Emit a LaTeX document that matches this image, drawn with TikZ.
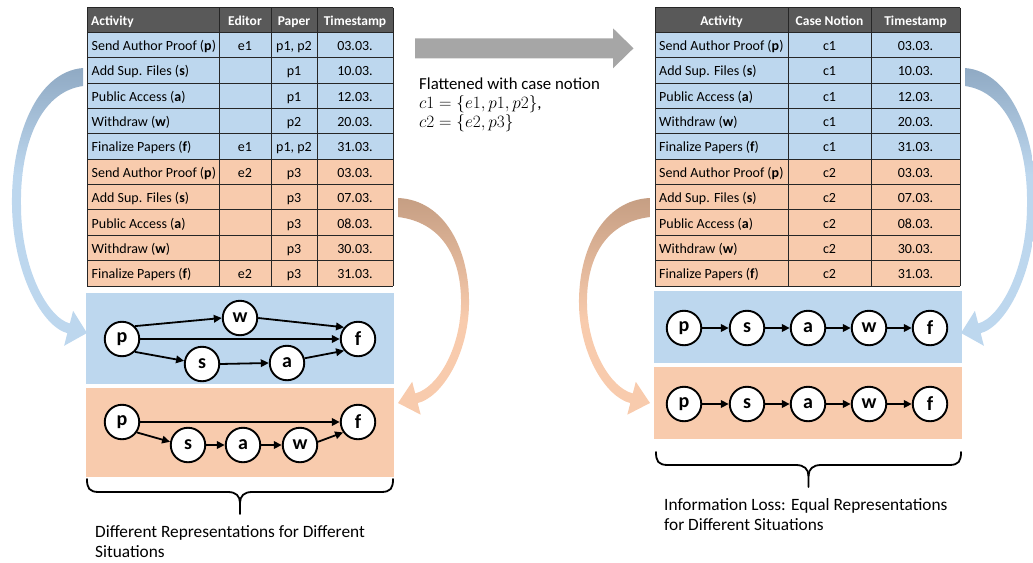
\documentclass[tikz,border=0pt]{standalone}
\usepackage{fontspec}
\setmainfont{Carlito}
\usetikzlibrary{arrows.meta}

\definecolor{headgray}{HTML}{595959}
\definecolor{caseblue}{HTML}{BDD7EE}
\definecolor{caseorange}{HTML}{F8CBAD}
\definecolor{blueback}{HTML}{8EA8C2}
\definecolor{orangeback}{HTML}{C49D82}
\definecolor{flatgray}{HTML}{A6A6A6}

% curved block arrows (coordinates: 1 unit = 1pt, y grows downwards)
\newcommand\blueswoosh{(83,68) .. controls (35,72) and (11,140) .. (12,205)
  .. controls (13,275) and (43,327) .. (67.35,333.15)
  -- (64.1,345.8) -- (87,333) -- (73.1,310.8) -- (69.85,323.45)
  .. controls (48.5,318) and (21,270) .. (21,205)
  .. controls (20,145) and (40,92) .. (83,86) -- cycle}
\newcommand\orangeswoosh{(398,198) .. controls (445,200) and (470,250) .. (469,305)
  .. controls (468,355) and (442,397) .. (417.7,403.1)
  -- (420.7,414.7) -- (398,403) -- (412.2,381.8) -- (415.2,393.4)
  .. controls (437,388) and (460,350) .. (461,305)
  .. controls (462,255) and (440,222) .. (398,217) -- cycle}

\begin{document}
\begin{tikzpicture}[x=1pt,y=-1pt,
  cell/.style={font=\fontsize{14}{16}\selectfont, inner sep=0pt},
  head/.style={font=\fontsize{13.5}{15}\selectfont\bfseries, text=white, inner sep=0pt},
  state/.style={circle, draw=black, line width=1.9pt, fill=white, minimum size=34.5pt,
    inner sep=0pt, font=\fontsize{20}{20}\selectfont\bfseries},
  flow/.style={line width=1.8pt, -{Triangle[length=8pt,width=7.5pt]}},
  tablerule/.style={line width=0.9pt, draw=black!85},
  bracket/.style={line width=1.8pt, line cap=round, line join=round},
  caption/.style={font=\fontsize{17.3}{20}\selectfont, align=left, inner sep=0pt}
]
\useasboundingbox (0,0) rectangle (1033,562);

% ---------------- curved arrows ----------------
\begin{scope}
  \clip \blueswoosh;
  \shade[top color=blueback, bottom color=caseblue] (0,64) rectangle (100,175);
  \fill[caseblue] (0,175) rectangle (100,360);
\end{scope}
\begin{scope}
  \clip \orangeswoosh;
  \shade[top color=orangeback, bottom color=caseorange] (390,194) rectangle (480,320);
  \fill[caseorange] (390,320) rectangle (480,430);
\end{scope}
\begin{scope}[xshift=1048pt, xscale=-1]
  \begin{scope}
    \clip \blueswoosh;
    \shade[top color=blueback, bottom color=caseblue] (0,64) rectangle (100,175);
    \fill[caseblue] (0,175) rectangle (100,360);
  \end{scope}
  \begin{scope}
    \clip \orangeswoosh;
    \shade[top color=orangeback, bottom color=caseorange] (390,194) rectangle (480,320);
    \fill[caseorange] (390,320) rectangle (480,430);
  \end{scope}
\end{scope}

% ---------------- left event table ----------------
\fill[headgray] (87,7.5) rectangle (393,32.3);
\fill[caseblue] (87,32.3) rectangle (393,159.15);
\fill[caseorange] (87,159.15) rectangle (393,286);
\foreach \k in {0,...,10} \draw[tablerule] (87,32.3+\k*25.37) -- (393,32.3+\k*25.37);
\draw[tablerule] (87,7.5) -- (393,7.5);
\foreach \x in {87,219,271,317,393} \draw[tablerule] (\x,7.5) -- (\x,286);

\node[head, anchor=base west] (Lh1) at (91,25.2) {Activity};
\node[head, anchor=base] (Lh2) at (245,25.2) {Editor};
\node[head, anchor=base] (Lh3) at (294,25.2) {Paper};
\node[head, anchor=base] (Lh4) at (355,25.2) {Timestamp};

\foreach \i/\act/\pap/\ts in {
  1/Send Author Proof (\textbf{p})/{p1, p2}/03.03.,
  2/Add Sup. Files (\textbf{s})/p1/10.03.,
  3/Public Access (\textbf{a})/p1/12.03.,
  4/Withdraw (\textbf{w})/p2/20.03.,
  5/Finalize Papers (\textbf{f})/{p1, p2}/31.03.,
  6/Send Author Proof (\textbf{p})/p3/03.03.,
  7/Add Sup. Files (\textbf{s})/p3/07.03.,
  8/Public Access (\textbf{a})/p3/08.03.,
  9/Withdraw (\textbf{w})/p3/30.03.,
  10/Finalize Papers (\textbf{f})/p3/31.03.}{
  \pgfmathsetmacro\yb{32.3+(\i-0.5)*25.37+5.5}
  \node[cell, anchor=base west] (La\i) at (91.5,\yb) {\act};
  \node[cell, anchor=base] (Lp\i) at (294,\yb) {\pap};
  \node[cell, anchor=base] (Lt\i) at (355,\yb) {\ts};
}
\foreach \i/\ed in {1/e1,5/e1,6/e2,10/e2}{
  \pgfmathsetmacro\yb{32.3+(\i-0.5)*25.37+5.5}
  \node[cell, anchor=base] (Le\i) at (245,\yb) {\ed};
}

% ---------------- flattening arrow ----------------
\fill[flatgray] (415,38.3) -- (613,38.3) -- (613,28.3) -- (633.5,48.3) -- (613,68.3)
  -- (613,58.3) -- (415,58.3) -- cycle;
\node[caption, font=\fontsize{16.8}{19}\selectfont, anchor=base west] (flat) at (419,127.5)
  {Flattened with case notion\\$c1=\{e1,p1,p2\}$,\\$c2=\{e2,p3\}$};

% ---------------- right (flattened) event table ----------------
\fill[headgray] (655,7.5) rectangle (960,32.3);
\fill[caseblue] (655,32.3) rectangle (960,159.15);
\fill[caseorange] (655,159.15) rectangle (960,286);
\foreach \k in {0,...,10} \draw[tablerule] (655,32.3+\k*25.37) -- (960,32.3+\k*25.37);
\draw[tablerule] (655,7.5) -- (960,7.5);
\foreach \x in {655,788,871,960} \draw[tablerule] (\x,7.5) -- (\x,286);

\node[head, anchor=base] (Rh1) at (721.5,25.2) {Activity};
\node[head, anchor=base] (Rh2) at (829.5,25.2) {Case Notion};
\node[head, anchor=base] (Rh3) at (915.5,25.2) {Timestamp};

\foreach \i/\act/\cn/\ts in {
  1/Send Author Proof (\textbf{p})/c1/03.03.,
  2/Add Sup. Files (\textbf{s})/c1/10.03.,
  3/Public Access (\textbf{a})/c1/12.03.,
  4/Withdraw (\textbf{w})/c1/20.03.,
  5/Finalize Papers (\textbf{f})/c1/31.03.,
  6/Send Author Proof (\textbf{p})/c2/03.03.,
  7/Add Sup. Files (\textbf{s})/c2/07.03.,
  8/Public Access (\textbf{a})/c2/08.03.,
  9/Withdraw (\textbf{w})/c2/30.03.,
  10/Finalize Papers (\textbf{f})/c2/31.03.}{
  \pgfmathsetmacro\yb{32.3+(\i-0.5)*25.37+5.5}
  \node[cell, anchor=base west] (Ra\i) at (659,\yb) {\act};
  \node[cell, anchor=base] (Rc\i) at (829.5,\yb) {\cn};
  \node[cell, anchor=base] (Rt\i) at (915.5,\yb) {\ts};
}

% ---------------- left process models ----------------
\fill[caseblue] (86,293) rectangle (394,384);
\fill[caseorange] (86,388) rectangle (394,477);

\node[state] (b1p) at (122,339) {p};
\node[state] (b1w) at (240,318) {w};
\node[state] (b1f) at (358,339) {f};
\node[state] (b1s) at (202,364) {s};
\node[state] (b1a) at (287,363) {a};
\draw[flow] (b1p.45) -- (b1w.west);
\draw[flow] (b1w.east) -- (b1f.140);
\draw[flow] (b1p.east) -- (b1f.west);
\draw[flow] (b1p.-45) -- (b1s.170);
\draw[flow] (b1s.east) -- (b1a.west);
\draw[flow] (b1a.15) -- (b1f.220);

\node[state] (o1p) at (122,422) {p};
\node[state] (o1f) at (358,422) {f};
\node[state] (o1s) at (188,445) {s};
\node[state] (o1a) at (243,445) {a};
\node[state] (o1w) at (300,445) {w};
\draw[flow] (o1p.east) -- (o1f.west);
\draw[flow] (o1p.-35) -- (o1s.170);
\draw[flow] (o1s.east) -- (o1a.west);
\draw[flow] (o1a.east) -- (o1w.west);
\draw[flow] (o1w.10) -- (o1f.215);

% ---------------- right process models ----------------
\fill[caseblue] (654,291) rectangle (962,363);
\fill[caseorange] (654,367) rectangle (962,439);
\foreach \r/\y in {b2/328,o2/404}{
  \node[state] (\r p) at (684,\y) {p};
  \node[state] (\r s) at (747,\y) {s};
  \node[state] (\r a) at (808,\y) {a};
  \node[state] (\r w) at (869,\y) {w};
  \node[state] (\r f) at (930,\y) {f};
  \draw[flow] (\r p) -- (\r s);
  \draw[flow] (\r s) -- (\r a);
  \draw[flow] (\r a) -- (\r w);
  \draw[flow] (\r w) -- (\r f);
}

% ---------------- braces and captions ----------------
\draw[bracket] (87,479) .. controls (87,488) and (89,492) .. (99,492) -- (228,492)
  .. controls (236,492) and (240,496) .. (240,503) -- (240,514);
\draw[bracket] (393,479) .. controls (393,488) and (391,492) .. (381,492) -- (252,492)
  .. controls (244,492) and (240,496) .. (240,503);
\node[caption, anchor=base west] (capL) at (95,557.3)
  {Different Representations for Different\\Situations};

\draw[bracket] (656,452) .. controls (656,461) and (658,465) .. (668,465) -- (796,465)
  .. controls (804,465) and (808.5,469) .. (808.5,476) -- (808.5,487);
\draw[bracket] (961,452) .. controls (961,461) and (959,465) .. (949,465) -- (821,465)
  .. controls (813,465) and (808.5,469) .. (808.5,476);
\node[caption, anchor=base west] (capR) at (664,530)
  {Information Loss: Equal Representations\\for Different Situations};
\end{tikzpicture}
\end{document}
